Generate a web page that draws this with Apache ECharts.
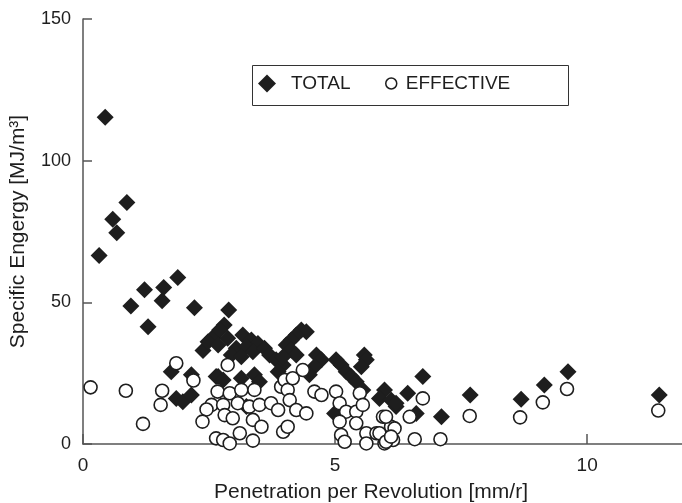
<!DOCTYPE html>
<html>
<head>
<meta charset="utf-8">
<script src="https://cdn.jsdelivr.net/npm/echarts@6/dist/echarts.min.js"></script>
<style>
  html, body { margin: 0; padding: 0; background: #fff; }
  #chart { width: 682px; height: 503px; }
</style>
</head>
<body>
<div id="chart"></div>
<script>
// penetration [mm/r], specific energy [MJ/m3]
var totalPoints = [
  [0.32, 66.5], [0.44, 115.3], [0.59, 79.3], [0.67, 74.6], [0.87, 85.2],
  [1.88, 58.8], [1.22, 54.4], [1.60, 55.2], [1.57, 50.6], [0.95, 48.7],
  [2.21, 48.1], [2.89, 47.3], [1.29, 41.4], [2.80, 42.0], [1.75, 25.5],
  [2.15, 24.4], [1.85, 16.1], [1.98, 14.9], [2.15, 17.3], [2.38, 33.0],
  [2.57, 37.5], [2.64, 23.8], [2.71, 40.2], [2.48, 36.1], [2.68, 34.9],
  [2.87, 37.3], [3.17, 38.5], [3.34, 36.7], [3.47, 35.5], [3.04, 33.8],
  [3.24, 34.3], [3.37, 32.6], [2.94, 31.4], [3.14, 30.8], [3.60, 33.8],
  [3.70, 31.4], [3.83, 29.7], [3.97, 27.9], [3.87, 25.5], [4.33, 40.2],
  [4.43, 39.6], [4.23, 38.5], [4.13, 36.7], [4.03, 34.9], [4.13, 33.2],
  [4.23, 31.4], [3.97, 30.8], [4.63, 31.4], [4.73, 29.7], [4.59, 27.3],
  [4.49, 24.4], [5.02, 29.7], [5.12, 27.9], [5.22, 25.5], [5.32, 23.8],
  [5.42, 22.0], [5.58, 31.4], [5.62, 29.7], [5.52, 27.3], [5.55, 19.1],
  [5.98, 19.1], [5.88, 16.1], [6.11, 15.5], [6.21, 13.2], [2.68, 23.8],
  [2.78, 22.6], [3.14, 23.2], [3.40, 24.4], [3.50, 22.0], [3.24, 13.2],
  [4.99, 10.8], [6.74, 23.8], [6.21, 14.4], [6.44, 17.9], [6.61, 10.8],
  [7.11, 9.6], [7.68, 17.3], [8.69, 15.8], [9.15, 20.8], [9.62, 25.5],
  [11.43, 17.3]
];
var effectivePoints = [
  [0.15, 20.0], [0.85, 18.8], [1.19, 7.1], [1.57, 18.8], [1.54, 13.8],
  [1.85, 28.5], [2.19, 22.4], [2.55, 13.8], [2.45, 12.2], [2.37, 7.9],
  [2.64, 2.0], [2.67, 18.5], [2.87, 27.9], [2.91, 17.9], [3.14, 19.1],
  [3.40, 19.1], [2.78, 13.8], [3.07, 14.4], [3.30, 13.2], [3.50, 13.8],
  [3.73, 14.4], [2.81, 10.2], [2.97, 9.1], [3.37, 8.5], [3.87, 12.0],
  [3.97, 4.3], [3.11, 3.8], [2.78, 1.4], [2.91, 0.2], [3.37, 1.2],
  [3.54, 6.1], [4.06, 6.1], [3.93, 20.2], [4.00, 22.6], [4.06, 19.1],
  [4.16, 23.2], [4.36, 26.1], [4.10, 15.5], [4.23, 12.0], [4.43, 10.8],
  [4.59, 18.5], [4.73, 17.3], [5.02, 18.5], [5.09, 14.4], [5.22, 11.4],
  [5.09, 7.9], [5.12, 3.2], [5.19, 0.8], [5.42, 11.4], [5.49, 17.9],
  [5.55, 13.8], [5.42, 7.3], [5.62, 3.8], [5.62, 0.2], [5.82, 3.8],
  [5.95, 9.6], [6.11, 6.1], [5.98, 0.2], [6.15, 1.4], [6.74, 16.1],
  [7.67, 9.9], [8.67, 9.4], [9.12, 14.7], [9.60, 19.4], [7.09, 1.7],
  [6.58, 1.7], [6.01, 9.6], [6.18, 5.5], [6.48, 9.6], [5.88, 3.8],
  [6.01, 0.8], [6.11, 2.6], [11.41, 11.8]
];
var seriesNames = ['TOTAL', 'EFFECTIVE'];

var font = 'Liberation Sans, Arial, sans-serif';
var ink = '#1e1e1e';
var chart = echarts.init(document.getElementById('chart'));
var option = {
  animation: false,
  textStyle: { fontFamily: font },
  grid: { left: 83, top: 19, bottom: 59, right: -6, outerBoundsMode: 'none', containLabel: false },
  // frame round the two legends
  graphic: [{
    type: 'rect', left: 250, top: 63, z: 0,
    shape: { width: 316, height: 40 },
    style: { fill: 'none', stroke: '#333', lineWidth: 1 }
  }],
  legend: [
    {
      left: 258, top: 74, padding: 0,
      itemWidth: 18, itemHeight: 18,
      textStyle: { fontSize: 19, color: ink, fontFamily: font, padding: [0, 0, 0, 10] },
      data: [{ name: seriesNames[0], icon: 'diamond', itemStyle: { color: ink } }]
    },
    {
      left: 385, top: 74, padding: 0,
      itemWidth: 11, itemHeight: 11,
      textStyle: { fontSize: 19, color: ink, fontFamily: font, padding: [0, 0, 0, 4] },
      data: [{ name: seriesNames[1], icon: 'circle',
        itemStyle: { color: '#fff', borderColor: ink, borderWidth: 1.5 } }]
    }
  ],
  xAxis: {
    type: 'value', min: 0, max: 12, interval: 5,
    name: 'Penetration per Revolution [mm/r]',
    nameLocation: 'middle', nameGap: 38,
    nameTextStyle: { fontSize: 21, color: ink, padding: [0, 29, 0, 0] },
    axisLine: { lineStyle: { color: '#555', width: 1.5 } },
    axisTick: { inside: true, length: 10, lineStyle: { color: '#555', width: 1.5 } },
    axisLabel: { fontSize: 19, color: ink, margin: 12, showMaxLabel: false },
    splitLine: { show: false }
  },
  yAxis: {
    type: 'value', min: 0, max: 150, interval: 50,
    name: 'Specific Engergy [MJ/m\u00b3]',
    nameLocation: 'middle', nameGap: 54, nameRotate: 90,
    nameTextStyle: { fontSize: 21, color: ink },
    axisLine: { show: true, lineStyle: { color: '#555', width: 1.5 } },
    axisTick: { show: true, inside: true, length: 9, lineStyle: { color: '#555', width: 1.5 } },
    axisLabel: { fontSize: 18, color: ink, margin: 12 },
    splitLine: { show: false }
  },
  series: [
    {
      name: seriesNames[0], type: 'scatter', symbol: 'diamond', symbolSize: 17,
      itemStyle: { color: ink, opacity: 1 },
      data: totalPoints
    },
    {
      name: seriesNames[1], type: 'scatter', symbol: 'circle', symbolSize: 13,
      itemStyle: { color: '#fff', borderColor: ink, borderWidth: 1.6, opacity: 1 },
      data: effectivePoints
    }
  ]
};
chart.setOption(option);
</script>
</body>
</html>
